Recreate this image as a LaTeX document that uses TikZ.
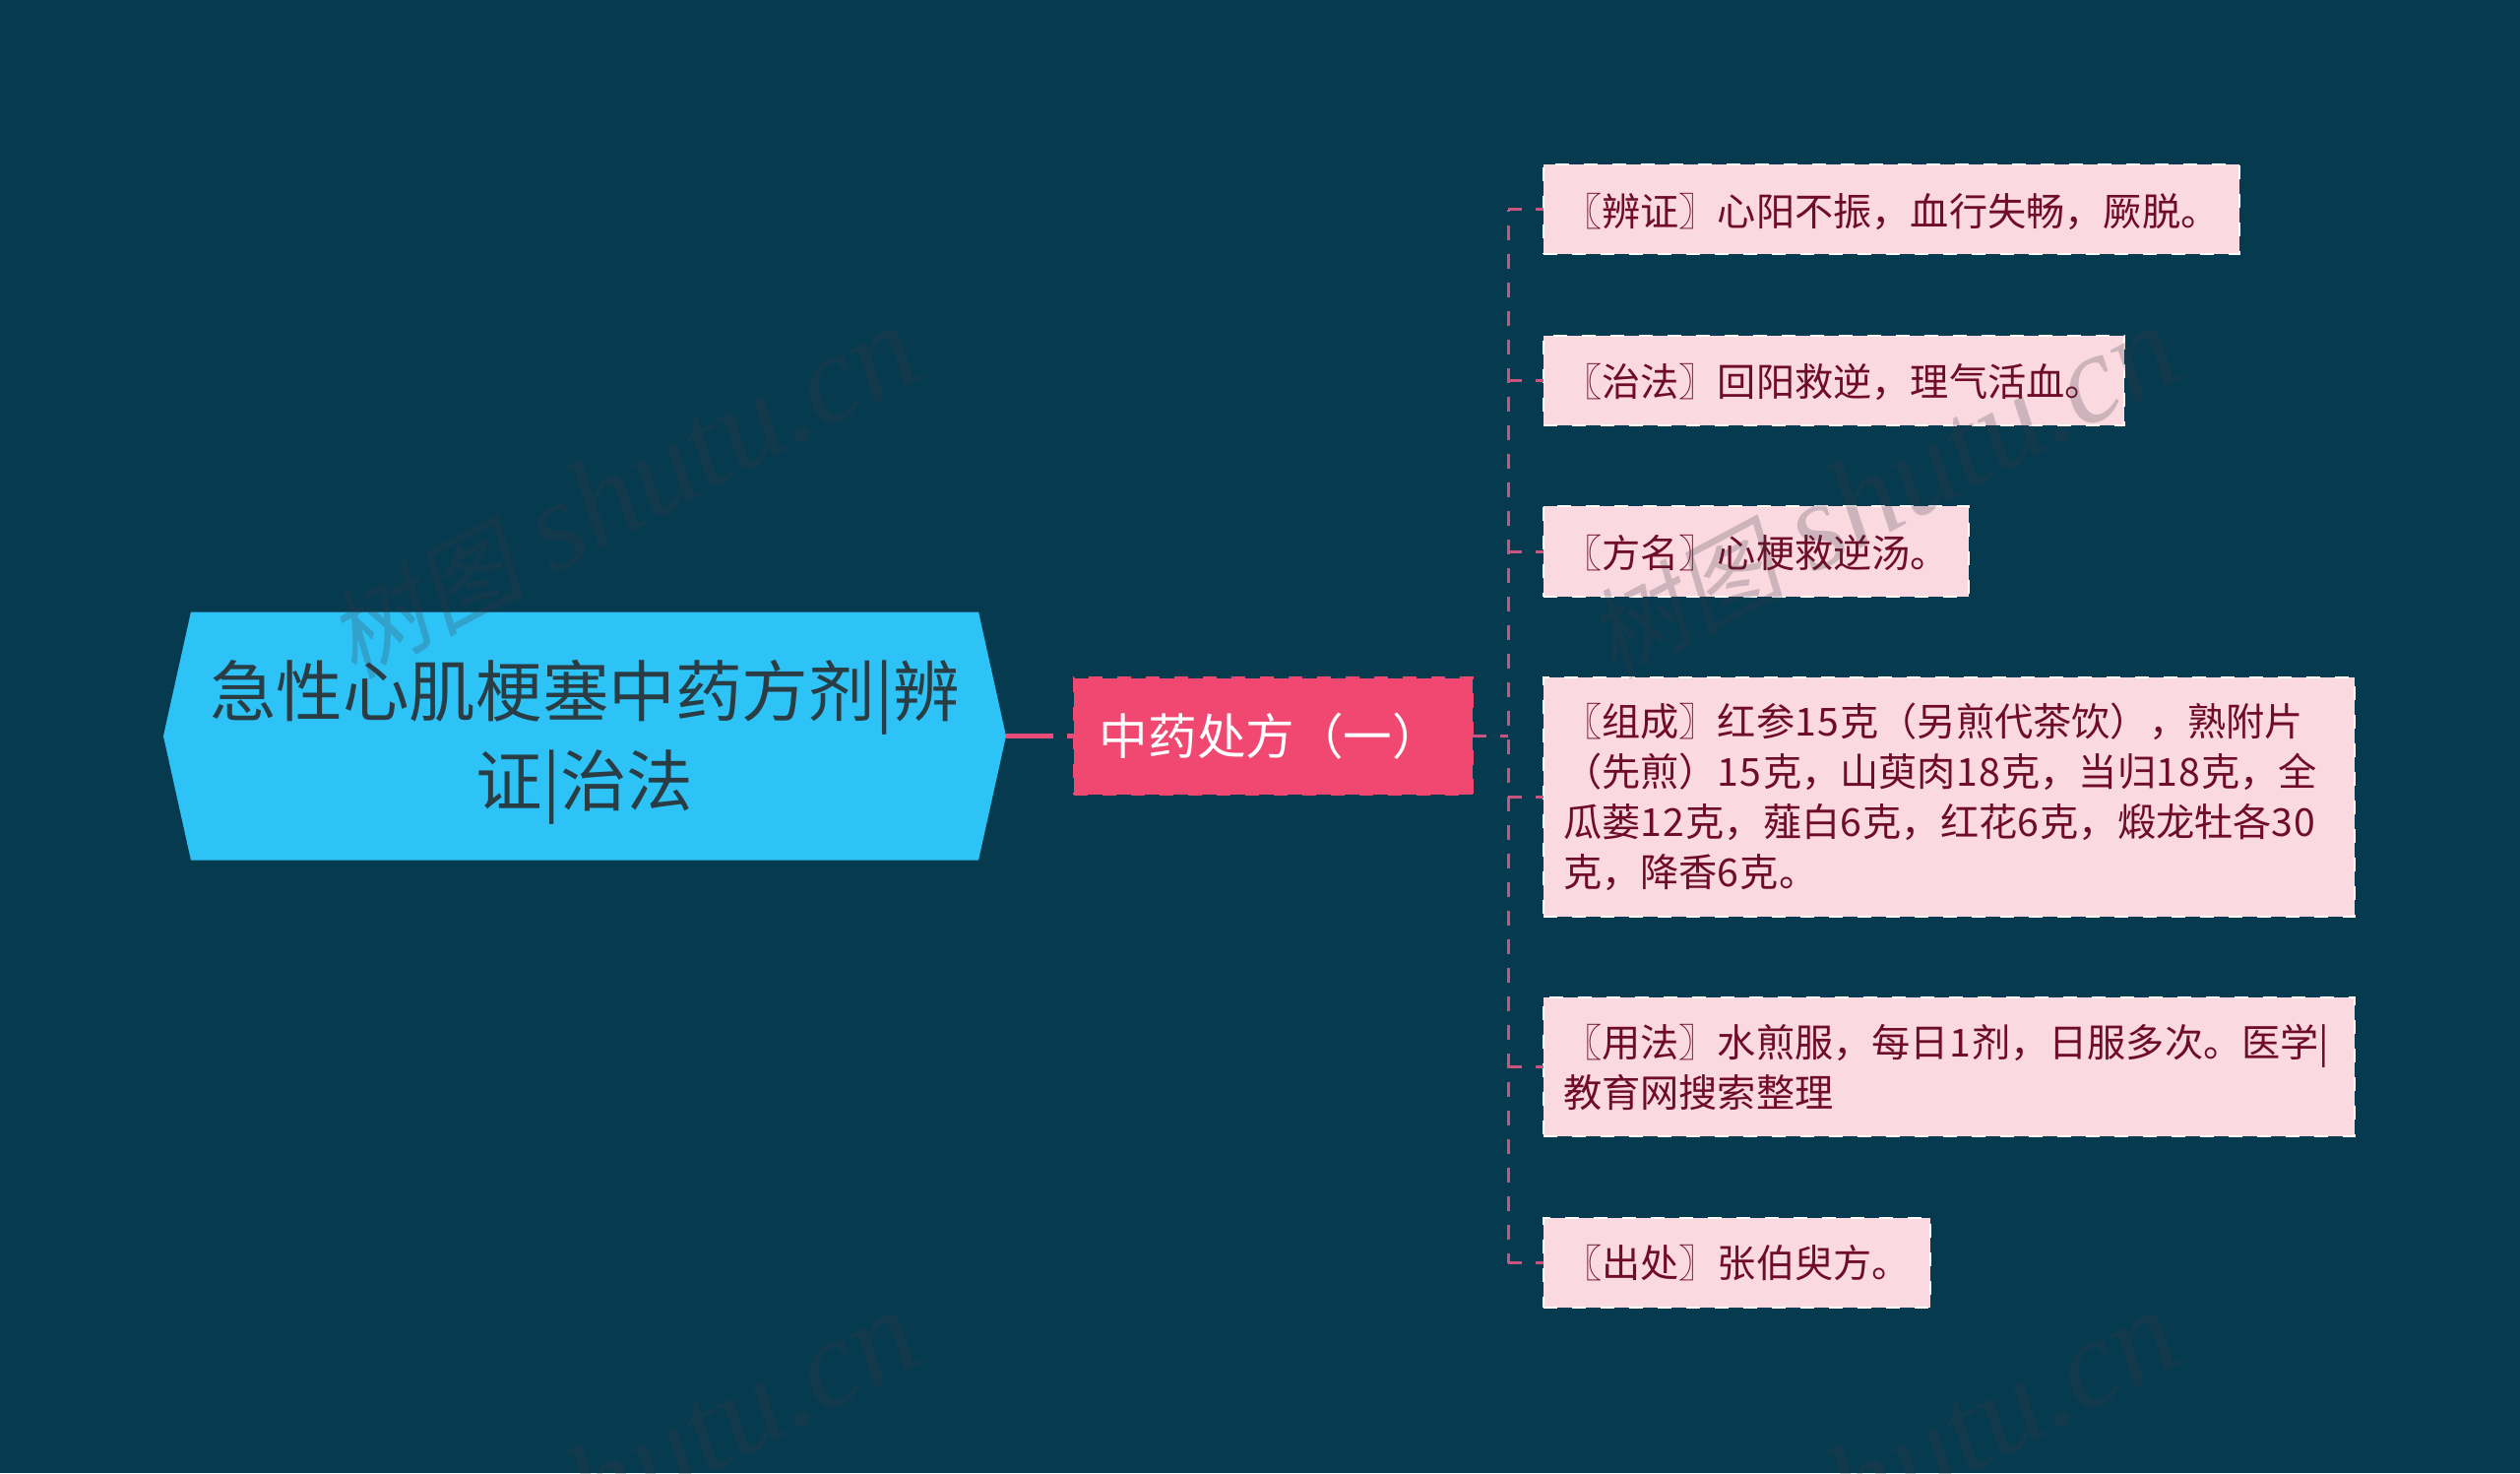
\documentclass[tikz,border=0pt]{standalone}
\usepackage{fontspec}
\usetikzlibrary{shapes.symbols}
\setmainfont{Noto Sans CJK SC}
\newfontfamily\wmcjk[FakeSlant=0.2]{Noto Sans CJK SC}
\newfontfamily\wmlat{Liberation Serif}[ItalicFont=Liberation Serif Italic]
\newcommand\kk{\kern0.7pt}
\newcommand\wmtext{{\fontsize{50}{60}\wmcjk\selectfont 树图} \wmlat\itshape shutu.cn}
\definecolor{bgc}{HTML}{063A4F}
\definecolor{mainc}{HTML}{2DC3F7}
\definecolor{maintx}{HTML}{2A3D45}
\definecolor{subc}{HTML}{F04870}
\definecolor{leafc}{HTML}{FBD9E1}
\definecolor{leaftx}{HTML}{6E0C2A}
\definecolor{lnc}{HTML}{C8557F}
\definecolor{lnmain}{HTML}{E84C78}
\definecolor{wmc}{HTML}{3C3C46}
\tikzset{
  x=0.5pt,y=-0.5pt,
  mainbox/.style={signal,signal to=east and west,signal pointer angle=155,fill=mainc,
    minimum width=428pt,minimum height=126pt,inner sep=0pt,outer sep=0pt},
  maintext/.style={inner sep=0pt,text=maintx,align=center,font=\fontsize{33.8}{45.5}\selectfont},
  subbox/.style={rectangle,fill=subc,minimum width=202.5pt,minimum height=59pt,inner sep=0pt,outer sep=0pt,
    text=white,anchor=center,font=\fontsize{24.8}{30}\selectfont,
    preaction={draw=bgc,solid,line width=1.2pt},draw=subc,line width=1.2pt,dash pattern=on 7.2pt off 7.3pt},
  leafbox/.style={rectangle,fill=leafc,anchor=west,outer sep=0pt,inner ysep=0pt,inner xsep=10pt,
    text=leaftx,align=left,font=\fontsize{19.6}{25.5}\selectfont,
    preaction={draw=bgc,solid,line width=1.1pt},draw=white!92!leafc,line width=1.1pt,dash pattern=on 7.2pt off 7.3pt},
  mainline/.style={draw=lnmain,line width=2.5pt,dash pattern=on 24pt off 7pt},
  leafline/.style={draw=lnc,line width=1.5pt,dash pattern=on 6.8pt off 7.4pt},
  trunkline/.style={draw=lnc,line width=1.5pt,dash pattern=on 7.4pt off 7.1pt,dash phase=6.4pt},
  wm/.style={text=wmc,text opacity=0.24,rotate=28,anchor=base east,inner sep=0pt,font=\fontsize{64}{65}\selectfont}
}
\begin{document}
\begin{tikzpicture}
\useasboundingbox (0,0) rectangle (2560,1496);
\fill[bgc] (0,0) rectangle (2560,1496);
% trunk junctions
\coordinate (j0) at (1532,747.5);
\coordinate (ja) at (1532,212.5);
\coordinate (jb) at (1532,386.5);
\coordinate (jc) at (1532,560);
\coordinate (jd) at (1532,809.5);
\coordinate (je) at (1532,1083.5);
\coordinate (jf) at (1532,1282.5);
% connectors
\draw[trunkline] (ja) -- (jf);
\node[mainbox] (main) at (594,747.5) {\phantom{x}};
\node[maintext] (maintitle) at (594,754) {急性心肌梗塞中药方剂|辨\\证|治法};
\node[subbox] (sub) at (1293.5,747.5) {\hspace*{-3pt}中药处方（一）};
\node[leafbox,text width=333.5pt,minimum height=45.5pt] (a) at (1568,212.5) {\vspace*{-3.2pt}〖辨证〗心阳不振，血行失畅，厥脱。};
\node[leafbox,text width=275pt,minimum height=45.5pt] (b) at (1568,386.5) {\vspace*{-1.6pt}〖治法〗回阳救逆，理气活血。};
\node[leafbox,text width=196pt,minimum height=46pt] (c) at (1568,560) {\vspace*{-1.6pt}〖方名〗心梗救逆汤。};
\node[leafbox,text width=392pt,minimum height=121.5pt] (d) at (1568,809.5) {〖组成〗红参1\kk{}5\kk{}克（另煎代茶饮），熟附片\\（先煎）1\kk{}5\kk{}克，山萸肉1\kk{}8\kk{}克，当归1\kk{}8\kk{}克，全\\瓜蒌1\kk{}2\kk{}克，薤白6\kk{}克，红花6\kk{}克，煅龙牡各3\kk{}0\\克，降香6\kk{}克。};
\node[leafbox,text width=392pt,minimum height=70.5pt] (e) at (1568,1083.5) {〖用法〗水煎服，每日1\kk{}剂，日服多次。医学|\\教育网搜索整理};
\node[leafbox,text width=176.5pt,minimum height=45.5pt] (f) at (1568,1282.5) {〖出处〗张伯臾方。};
\draw[mainline] (main.east) -- (sub.west);
\draw[leafline] (sub.east) -- (j0);
\draw[leafline] (ja) -- (a.west);
\draw[leafline] (jb) -- (b.west);
\draw[leafline] (jc) -- (c.west);
\draw[leafline] (jd) -- (d.west);
\draw[leafline] (je) -- (e.west);
\draw[leafline] (jf) -- (f.west);
% watermarks
\node[wm] (w1) at (942,381) {\wmtext};
\node[wm] (w2) at (2222,381) {\wmtext};
\node[wm] (w3) at (942,1381) {\wmtext};
\node[wm] (w4) at (2222,1381) {\wmtext};
\end{tikzpicture}
\end{document}
